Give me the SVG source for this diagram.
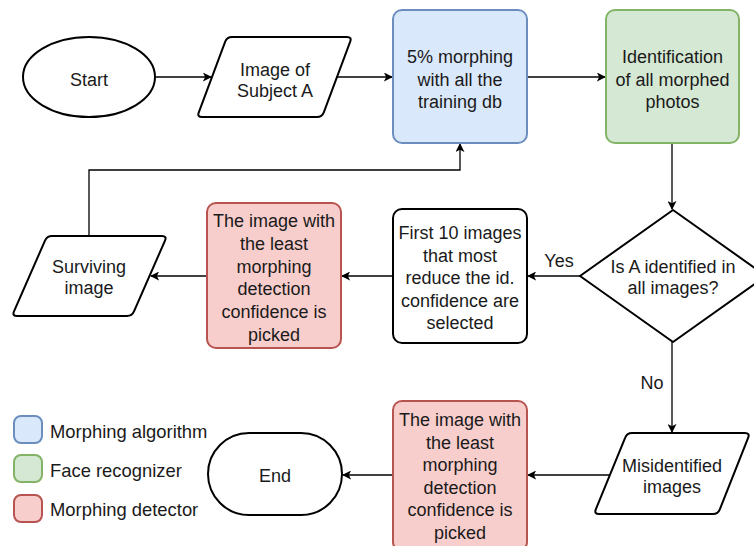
<svg xmlns="http://www.w3.org/2000/svg" width="754" height="546" viewBox="0 0 754 546">
<defs>
<style>
text{font-family:"Liberation Sans",Arial,Helvetica,sans-serif;font-size:18px;fill:#1a1a1a;text-anchor:middle}
.n{fill:#fff;stroke:#000;stroke-width:2;stroke-linejoin:round}
.blue{fill:#dae8fc;stroke:#6c8ebf;stroke-width:2}
.green{fill:#d5e8d4;stroke:#82b366;stroke-width:2}
.red{fill:#f8cecc;stroke:#b85450;stroke-width:2}
.e{fill:none;stroke:#000;stroke-width:1.3}
.a{marker-end:url(#arr)}
.lg{text-anchor:start;font-size:18.4px}
</style>
<marker id="arr" viewBox="0 0 10 10" refX="9" refY="5" markerWidth="9" markerHeight="9" markerUnits="userSpaceOnUse" orient="auto">
<path d="M0,0 L10,5 L0,10 L2.5,5 Z" fill="#000"/>
</marker>
</defs>

<g id="connectors">
<path class="e a" d="M155,77 H211"/>
<path class="e a" d="M337,77 H392"/>
<path class="e a" d="M527,77 H605"/>
<path class="e a" d="M672,143 V209"/>
<path class="e a" d="M580,276 H528"/>
<path class="e a" d="M393,276 H342"/>
<path class="e a" d="M207,276 H151"/>
<path class="e a" d="M89,236 V170 H460 V144"/>
<path class="e a" d="M672,342 V432"/>
<path class="e a" d="M610,475 H528"/>
<path class="e a" d="M393,475 H343"/>
<text x="559" y="267">Yes</text>
<text x="652" y="389">No</text>
</g>

<g id="start">
<ellipse class="n" cx="89" cy="77" rx="66" ry="40"/>
<text x="89" y="86">Start</text>
</g>

<g id="image-subject-a">
<path class="n" d="M232,37 L347,37 Q352,37 350.2,41.7 L323.8,112.3 Q322,117 317,117 L202,117 Q197,117 198.8,112.3 L225.2,41.7 Q227,37 232,37 Z"/>
<text x="275" y="76">Image of</text>
<text x="275" y="97">Subject A</text>
</g>

<g id="morphing">
<rect class="blue" x="393" y="10" width="134" height="133" rx="9"/>
<text x="460" y="63">5% morphing</text>
<text x="460" y="85.5">with all the</text>
<text x="460" y="108">training db</text>
</g>

<g id="identification">
<rect class="green" x="606" y="10" width="133" height="133" rx="9"/>
<text x="672.5" y="63">Identification</text>
<text x="672.5" y="85.5">of all morphed</text>
<text x="672.5" y="108">photos</text>
</g>

<g id="decision">
<path class="n" d="M673,210 L766,276 L673,342 L580,276 Z"/>
<text x="673" y="273">Is A identified in</text>
<text x="673" y="294">all images?</text>
</g>

<g id="first-10">
<rect class="n" x="393" y="209" width="134" height="134" rx="9"/>
<text x="460" y="239">First 10 images</text>
<text x="460" y="261.5">that most</text>
<text x="460" y="284">reduce the id.</text>
<text x="460" y="306.5">confidence are</text>
<text x="460" y="329">selected</text>
</g>

<g id="picked-1">
<rect class="red" x="207" y="203" width="134" height="145" rx="9"/>
<text x="274" y="227">The image with</text>
<text x="274" y="249.8">the least</text>
<text x="274" y="272.6">morphing</text>
<text x="274" y="295.4">detection</text>
<text x="274" y="318.2">confidence is</text>
<text x="274" y="341">picked</text>
</g>

<g id="surviving">
<path class="n" d="M52,236 L162,236 Q167,236 165,240.6 L134,311.4 Q132,316 127,316 L17,316 Q12,316 14,311.4 L45,240.6 Q47,236 52,236 Z"/>
<text x="89" y="273">Surviving</text>
<text x="89" y="294">image</text>
</g>

<g id="misidentified">
<path class="n" d="M632,433 L745,433 Q750,433 748.2,437.7 L719.8,509.3 Q718,514 713,514 L599,514 Q594,514 595.8,509.3 L625.2,437.7 Q627,433 632,433 Z"/>
<text x="672" y="472">Misidentified</text>
<text x="672" y="493">images</text>
</g>

<g id="picked-2">
<rect class="red" x="393" y="401" width="134" height="150" rx="9"/>
<text x="460" y="426">The image with</text>
<text x="460" y="448.6">the least</text>
<text x="460" y="471.2">morphing</text>
<text x="460" y="493.8">detection</text>
<text x="460" y="516.4">confidence is</text>
<text x="460" y="539">picked</text>
</g>

<g id="end">
<rect class="n" x="208" y="433" width="134" height="82" rx="41"/>
<text x="275" y="482">End</text>
</g>

<g id="legend">
<rect class="blue" x="14" y="416" width="28" height="27" rx="7"/>
<text class="lg" x="50" y="438">Morphing algorithm</text>
<rect class="green" x="14" y="455" width="28" height="27" rx="7"/>
<text class="lg" x="50" y="477">Face recognizer</text>
<rect class="red" x="14" y="495" width="28" height="27" rx="7"/>
<text class="lg" x="50" y="516">Morphing detector</text>
</g>
</svg>
